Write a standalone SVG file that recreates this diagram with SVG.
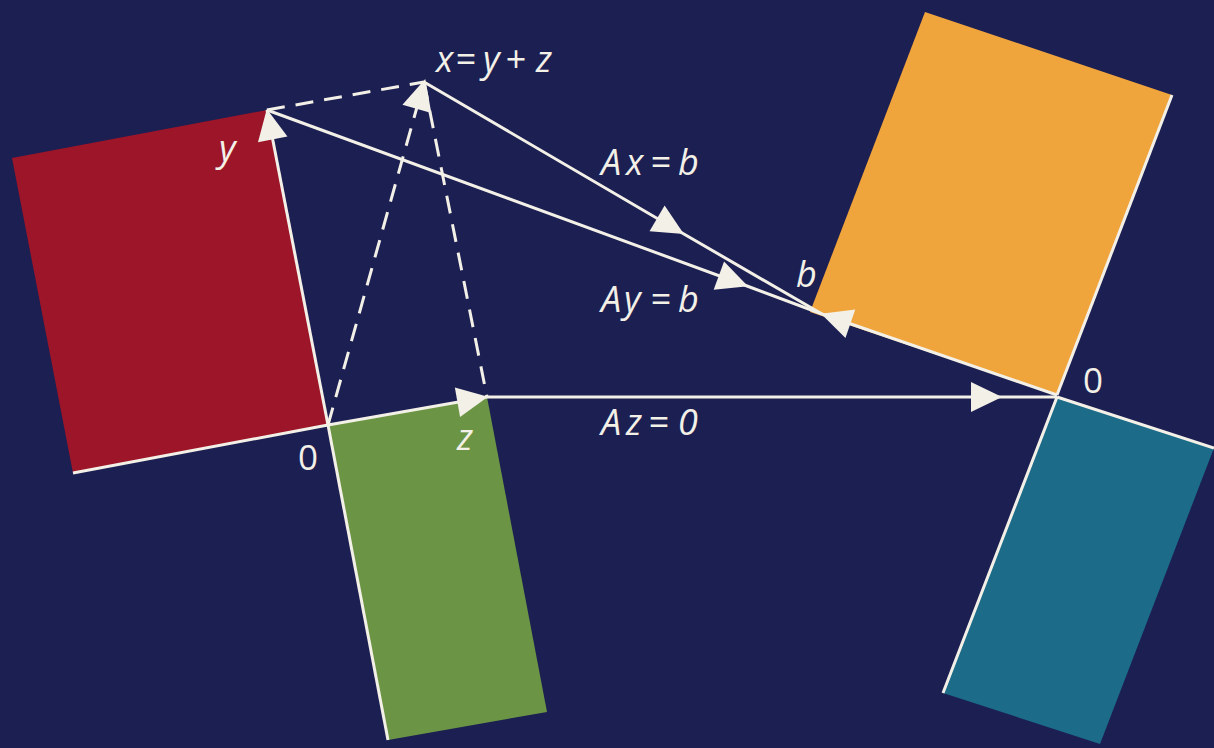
<svg xmlns="http://www.w3.org/2000/svg" width="1214" height="748" viewBox="0 0 1214 748">
<defs>
<style>
.edge{stroke:#f3f0e7;stroke-width:3;fill:none;stroke-linecap:butt}
.dash{stroke:#f3f0e7;stroke-width:3;fill:none;stroke-dasharray:18 11}
.ghost{stroke:none;fill:none}
.lbl{font-family:"Open Sans","Liberation Sans",sans-serif;font-style:italic;font-size:36px;fill:#f3f0e7}
.num{font-family:"Open Sans","Liberation Sans",sans-serif;font-size:35px;fill:#f3f0e7}
</style>
<marker id="ah" markerUnits="userSpaceOnUse" markerWidth="34" markerHeight="34" viewBox="-31 -17 34 34" refX="0" refY="0" orient="auto">
<path d="M1,0 L-30,-15 L-30,15 Z" fill="#f3f0e7"/>
</marker>
</defs>
<rect width="1214" height="748" fill="#1c1f52"/>

<g id="red">
<polygon points="328,425 267,110 12,158 73,473" fill="#9c1528"/>
<path class="edge" d="M73,473 L328,425"/>
</g>
<g id="green">
<polygon points="328,425 487,397 547,712 388,740" fill="#6b9545"/>
<path class="edge" d="M328,425 L388,740"/>
</g>
<g id="orange">
<polygon points="1057,395 1172,95 925,12 810,312" fill="#f0a43c"/>
<path class="edge" d="M1057,395 L1172,95"/>
</g>
<g id="teal">
<polygon points="1057,397 1214,448 1100,744 943,693" fill="#1b6b89"/>
<path class="edge" d="M1057,397 L1214,448 M1057,397 L943,693"/>
</g>

<g id="connectors">
<path class="dash" d="M267,110 L424,82"/>
<path class="dash" d="M328,425 L424,82"/>
<path class="dash" d="M424,82 L487,397"/>
<path class="edge" d="M328,425 L267,110" marker-end="url(#ah)"/>
<path class="ghost" d="M328,425 L425,80" marker-end="url(#ah)"/>
<path class="edge" d="M328,425 L487,397" marker-end="url(#ah)"/>
<path class="edge" d="M424,82 L683,233.5 L822,314" marker-mid="url(#ah)"/>
<path class="edge" d="M267,110 L747,286 L822,314" marker-mid="url(#ah)"/>
<path class="edge" d="M487,397 L1001,397 L1057,397" marker-mid="url(#ah)"/>
<path class="edge" d="M1057,395 L822,314" marker-end="url(#ah)"/>
</g>

<g id="labels">
<text class="lbl" y="72"><tspan x="436">x</tspan><tspan x="455">=</tspan><tspan x="483">y</tspan><tspan x="505">+</tspan><tspan x="536">z</tspan></text>
<text class="lbl" y="175"><tspan x="601">A</tspan><tspan x="626">x</tspan><tspan x="650">=</tspan><tspan x="678">b</tspan></text>
<text class="lbl" y="312"><tspan x="601">A</tspan><tspan x="624">y</tspan><tspan x="650">=</tspan><tspan x="678">b</tspan></text>
<text class="lbl" y="435"><tspan x="601">A</tspan><tspan x="626">z</tspan><tspan x="648">=</tspan><tspan x="678">0</tspan></text>
<text class="lbl" x="796" y="287">b</text>
<text class="lbl" x="219" y="161">y</text>
<text class="lbl" x="457" y="450">z</text>
<text class="num" x="298" y="470">0</text>
<text class="num" x="1083" y="393">0</text>
</g>
</svg>
